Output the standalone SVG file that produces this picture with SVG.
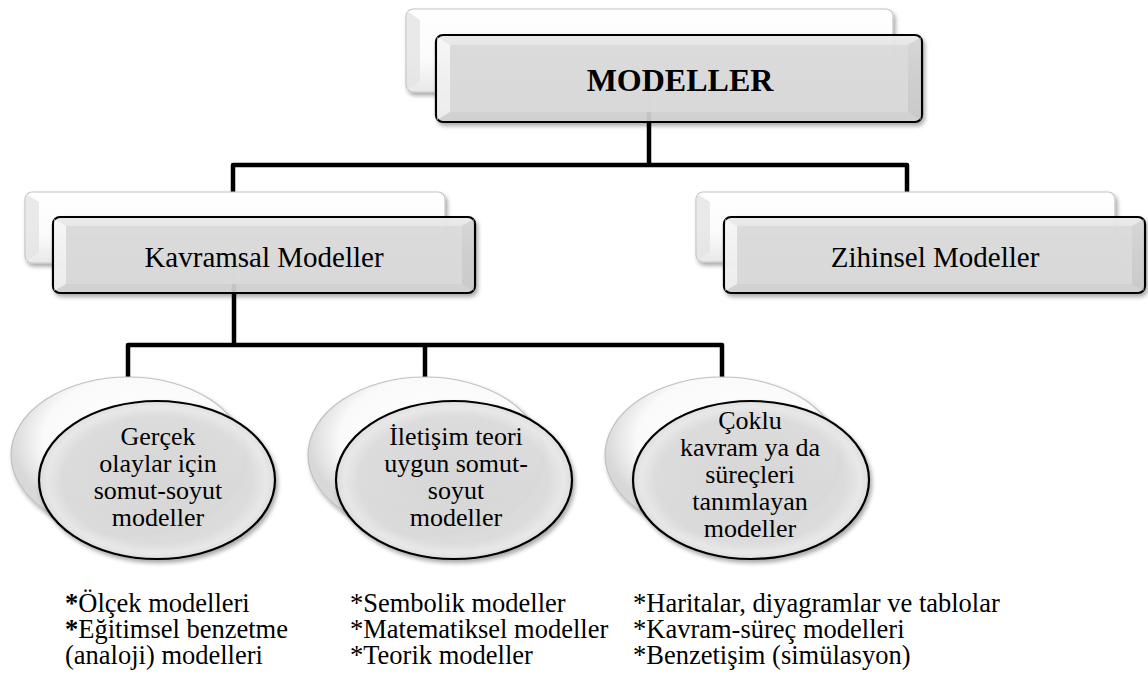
<svg xmlns="http://www.w3.org/2000/svg" width="1148" height="689" viewBox="0 0 1148 689">
<defs>
<filter id="sh" x="-10%" y="-20%" width="125%" height="150%">
<feDropShadow dx="2" dy="3" stdDeviation="2.2" flood-color="#000" flood-opacity="0.35"/>
</filter>
<linearGradient id="gFront" x1="0" y1="0" x2="0" y2="1">
<stop offset="0" stop-color="#ececec"/><stop offset="0.5" stop-color="#dadada"/><stop offset="1" stop-color="#d0d0d0"/>
</linearGradient>
<linearGradient id="gBack" x1="0" y1="0" x2="0" y2="1">
<stop offset="0" stop-color="#ffffff"/><stop offset="0.6" stop-color="#fbfbfb"/><stop offset="1" stop-color="#e8e8e8"/>
</linearGradient>
<radialGradient id="gEF" cx="0.5" cy="0.5" r="0.5">
<stop offset="0" stop-color="#d6d6d6"/><stop offset="0.8" stop-color="#dcdcdc"/><stop offset="0.93" stop-color="#e9e9e9"/><stop offset="1" stop-color="#dedede"/>
</radialGradient>
<radialGradient id="gEB" cx="0.55" cy="0.4" r="0.55">
<stop offset="0" stop-color="#ffffff"/><stop offset="0.75" stop-color="#fafafa"/><stop offset="1" stop-color="#d8d8d8"/>
</radialGradient>
<style>
.fb{fill:url(#gFront);fill-opacity:0.92;stroke:#000;stroke-width:2.2;filter:url(#sh)}
.fi{fill:#d9d9d9;fill-opacity:0.9}
.bl{fill:#ffffff;opacity:0.6}
.br{fill:#c4c4c4;opacity:0.5}
.bb{fill:url(#gBack);stroke:#c4c4c4;stroke-width:1.2;filter:url(#sh)}
.bbl{fill:#e4e4e4;opacity:0.8}
.ef{fill:url(#gEF);fill-opacity:0.95;stroke:#000;stroke-width:2.2;filter:url(#sh)}
.eb{fill:url(#gEB);stroke:#c0c0c0;stroke-width:1.2;filter:url(#sh)}
.conn{fill:none;stroke:#000;stroke-width:4.5;stroke-linejoin:round}
.t{fill:#000;text-anchor:middle}
.tb{font-size:32px;font-weight:bold}
.tm{font-size:29px}
.te{font-size:26px}
.tl{fill:#000;font-size:26.5px}
</style>
</defs>
<rect width="1148" height="689" fill="#fff"/>

<g id="connectors">
<path class="conn" d="M649,80 V165 M233,192 V165 H907 V192"/>
<path class="conn" d="M234,255 V345 M128,378 V345 H722 V378 M425,345 V378"/>
</g>

<g id="n-modeller">
<rect class="bb" x="406" y="9" width="487" height="83" rx="7"/>
<polygon class="bbl" points="407,11 420,20 420,81 407,90"/>
<rect class="fb" x="436" y="35" width="486" height="87" rx="7"/>
<rect class="fi" x="450" y="45" width="458" height="67"/>
<polygon class="bl" points="437,37 450,45 450,112 437,120"/>
<polygon class="br" points="921,37 908,45 908,112 921,120"/>
<text class="t tb" x="680" y="91" font-family="'Liberation Serif','Times New Roman','DejaVu Serif',serif">MODELLER</text>
</g>

<g id="n-kavramsal">
<rect class="bb" x="25" y="192" width="420" height="71" rx="7"/>
<polygon class="bbl" points="26,194 39,202 39,253 26,261"/>
<rect class="fb" x="53" y="217" width="422" height="76" rx="7"/>
<rect class="fi" x="66" y="226" width="396" height="58"/>
<polygon class="bl" points="54,219 66,226 66,284 54,291"/>
<polygon class="br" points="474,219 462,226 462,284 474,291"/>
<text class="t tm" x="264" y="267" font-family="'Liberation Serif','Times New Roman','DejaVu Serif',serif">Kavramsal Modeller</text>
</g>

<g id="n-zihinsel">
<rect class="bb" x="696" y="192" width="419" height="70" rx="7"/>
<polygon class="bbl" points="697,194 710,202 710,252 697,260"/>
<rect class="fb" x="724" y="217" width="421" height="76" rx="7"/>
<rect class="fi" x="737" y="226" width="395" height="58"/>
<polygon class="bl" points="725,219 737,226 737,284 725,291"/>
<polygon class="br" points="1144,219 1132,226 1132,284 1144,291"/>
<text class="t tm" x="935" y="267" font-family="'Liberation Serif','Times New Roman','DejaVu Serif',serif">Zihinsel Modeller</text>
</g>

<g id="n-gercek">
<ellipse class="eb" cx="128" cy="455" rx="117" ry="78"/>
<ellipse class="ef" cx="157" cy="480" rx="118" ry="79"/>
<text class="t te" font-family="'Liberation Serif','Times New Roman','DejaVu Serif',serif"><tspan x="158" y="445">Gerçek</tspan><tspan x="158" y="472">olaylar için</tspan><tspan x="158" y="499">somut-soyut</tspan><tspan x="158" y="526">modeller</tspan></text>
</g>

<g id="n-iletisim">
<ellipse class="eb" cx="425" cy="455" rx="117" ry="78"/>
<ellipse class="ef" cx="454" cy="480" rx="118" ry="79"/>
<text class="t te" font-family="'Liberation Serif','Times New Roman','DejaVu Serif',serif"><tspan x="456" y="445">İletişim teori</tspan><tspan x="456" y="472">uygun somut-</tspan><tspan x="456" y="499">soyut</tspan><tspan x="456" y="526">modeller</tspan></text>
</g>

<g id="n-coklu">
<ellipse class="eb" cx="722" cy="455" rx="117" ry="78"/>
<ellipse class="ef" cx="751" cy="480" rx="118" ry="79"/>
<text class="t te" font-family="'Liberation Serif','Times New Roman','DejaVu Serif',serif"><tspan x="750" y="429">Çoklu</tspan><tspan x="750" y="456">kavram ya da</tspan><tspan x="750" y="483">süreçleri</tspan><tspan x="750" y="510">tanımlayan</tspan><tspan x="750" y="537">modeller</tspan></text>
</g>

<g id="lists" font-family="'Liberation Serif','Times New Roman','DejaVu Serif',serif">
<text class="tl"><tspan x="65" y="612" font-weight="bold">*</tspan><tspan>Ölçek modelleri</tspan><tspan x="65" y="638" font-weight="bold">*</tspan><tspan>Eğitimsel benzetme</tspan><tspan x="65" y="664">(analoji) modelleri</tspan></text>
<text class="tl"><tspan x="350" y="612">*Sembolik modeller</tspan><tspan x="350" y="638">*Matematiksel modeller</tspan><tspan x="350" y="664">*Teorik modeller</tspan></text>
<text class="tl"><tspan x="633" y="612">*Haritalar, diyagramlar ve tablolar</tspan><tspan x="633" y="638">*Kavram-süreç modelleri</tspan><tspan x="633" y="664">*Benzetişim (simülasyon)</tspan></text>
</g>
</svg>
